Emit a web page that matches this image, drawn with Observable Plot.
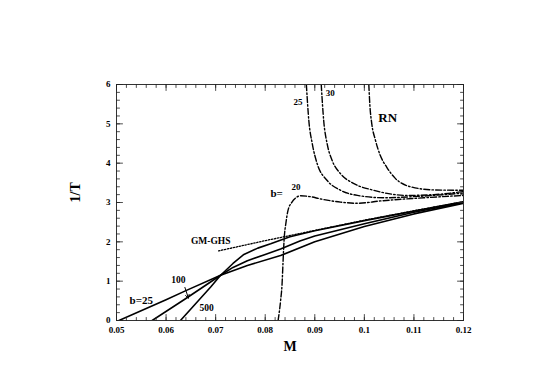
<!DOCTYPE html>
<html><head><meta charset="utf-8">
<script src="https://cdn.jsdelivr.net/npm/d3@7"></script>
<script src="https://cdn.jsdelivr.net/npm/@observablehq/plot@0.6"></script>
<style>body{margin:0;background:#fff}</style>
</head><body><div id="chart"></div>
<script>
// Solid curves (b = 25, 100, 500)
const solidB25M = [0.0505, 0.0600, 0.0640, 0.0710, 0.0764, 0.0831, 0.0900, 0.1000, 0.1100, 0.1200];
const solidB25T = [0, 0.53, 0.76, 1.15, 1.40, 1.65, 2.00, 2.39, 2.71, 2.98];
const solidB100M = [0.0572, 0.0640, 0.0710, 0.0735, 0.0764, 0.0800, 0.0831, 0.0870, 0.0900, 0.1000, 0.1100, 0.1200];
const solidB100T = [0, 0.56, 1.15, 1.35, 1.52, 1.68, 1.82, 2.02, 2.15, 2.46, 2.75, 3.00];
const solidB500M = [0.0629, 0.0665, 0.0690, 0.0710, 0.0735, 0.0757, 0.0785, 0.0811, 0.0850, 0.0900, 0.1000, 0.1100, 0.1200];
const solidB500T = [0, 0.50, 0.85, 1.15, 1.45, 1.68, 1.84, 1.95, 2.13, 2.28, 2.54, 2.78, 3.02];
// Dotted GM-GHS line
const ghsM = [0.0706, 0.0800, 0.0900, 0.1000, 0.1100, 0.1200];
const ghsT = [1.77, 2.03, 2.29, 2.55, 2.79, 3.02];
// Dash-dot curves (b = 20, 25, 30, RN)
const dashB20M = [0.0826, 0.0831, 0.0834, 0.0836, 0.0838, 0.0842, 0.0846, 0.0854, 0.0862, 0.0871, 0.0890, 0.0912, 0.0952, 0.0986, 0.1033, 0.1120, 0.1200];
const dashB20T = [0, 0.50, 0.93, 1.50, 2.03, 2.50, 2.80, 3.01, 3.12, 3.17, 3.15, 3.09, 3.01, 2.98, 3.04, 3.12, 3.18];
const dashB25M = [0.0883, 0.0888, 0.0895, 0.0905, 0.0925, 0.0952, 0.0986, 0.1040, 0.1100, 0.1200];
const dashB25T = [6.0, 5.08, 4.49, 3.98, 3.56, 3.31, 3.18, 3.12, 3.15, 3.24];
const dashB30M = [0.0913, 0.0918, 0.0925, 0.0935, 0.0952, 0.0979, 0.1019, 0.1086, 0.1140, 0.1200];
const dashB30T = [6.0, 5.08, 4.49, 4.07, 3.73, 3.48, 3.31, 3.18, 3.20, 3.28];
const rnM = [0.1009, 0.1011, 0.1015, 0.1022, 0.1032, 0.1045, 0.1062, 0.1093, 0.1140, 0.1200];
const rnT = [6.0, 5.50, 5.00, 4.60, 4.20, 3.90, 3.62, 3.40, 3.32, 3.31];
// Arrow from b=25 to b=100 at label "100"
const arrowM = [0.0638, 0.0645];
const arrowT = [0.84, 0.57];
// Annotations
const labelText = ["GM-GHS", "100", "b=25", "500", "25", "30", "RN", "b=", "20"];
const labelM = [0.0690, 0.0625, 0.0550, 0.0682, 0.0866, 0.0931, 0.1047, 0.0823, 0.0862];
const labelT = [2.01, 1.02, 0.51, 0.33, 5.54, 5.77, 5.16, 3.22, 3.38];
const labelSize = [9.5, 9.5, 11, 9.5, 9, 9, 13, 11, 9];
// Axes
const xTicks = [0.05, 0.06, 0.07, 0.08, 0.09, 0.1, 0.11, 0.12];
const xTickLabels = ["0.05", "0.06", "0.07", "0.08", "0.09", "0.1", "0.11", "0.12"];
const yTicks = [0, 1, 2, 3, 4, 5, 6];
const yTickLabels = ["0", "1", "2", "3", "4", "5", "6"];
const xMinor = d3.range(0, 36).map(i => 0.05 + i * 0.002);
const yMinor = d3.range(0, 31).map(i => i * 0.2);

const toRows = (M, T) => M.map((m, i) => ({M: m, T: T[i]}));
const tickUp = {draw(ctx, l) { ctx.moveTo(0, 0); ctx.lineTo(0, -l); }};

const solidSeries = [[solidB25M, solidB25T], [solidB100M, solidB100T], [solidB500M, solidB500T]];
const dashSeries = [[dashB20M, dashB20T], [dashB25M, dashB25T], [dashB30M, dashB30T], [rnM, rnT]];
const labels = labelText.map((t, i) => ({t, M: labelM[i], T: labelT[i], s: labelSize[i]}));

const tickMarks = (vals, axis, len) => [
  axis === "x"
    ? Plot.vector(vals, {x: d => d, frameAnchor: "bottom", length: len, anchor: "start", rotate: 0, shape: tickUp, stroke: "#222", strokeWidth: 0.8})
    : Plot.vector(vals, {y: d => d, frameAnchor: "left", length: len, anchor: "start", rotate: 90, shape: tickUp, stroke: "#222", strokeWidth: 0.8}),
  axis === "x"
    ? Plot.vector(vals, {x: d => d, frameAnchor: "top", length: len, anchor: "start", rotate: 180, shape: tickUp, stroke: "#222", strokeWidth: 0.8})
    : Plot.vector(vals, {y: d => d, frameAnchor: "right", length: len, anchor: "start", rotate: -90, shape: tickUp, stroke: "#222", strokeWidth: 0.8})
];

const chart = Plot.plot({
  width: 545, height: 380,
  marginLeft: 116, marginRight: 82, marginTop: 84, marginBottom: 60,
  style: {fontFamily: "'Liberation Serif', 'Times New Roman', serif", background: "#fff", color: "#000"},
  x: {domain: [0.05, 0.12]},
  y: {domain: [0, 6]},
  marks: [
    ...solidSeries.map(([M, T]) => Plot.line(toRows(M, T), {x: "M", y: "T", stroke: "#000", strokeWidth: 1.6, clip: true})),
    Plot.line(toRows(ghsM, ghsT), {x: "M", y: "T", stroke: "#000", strokeWidth: 1.3, strokeDasharray: "1.4,1.6", clip: true}),
    ...dashSeries.map(([M, T]) => Plot.line(toRows(M, T), {x: "M", y: "T", curve: "monotone-x", stroke: "#000", strokeWidth: 1.4, strokeDasharray: "6,2.2,1.5,2.2", clip: true})),
    Plot.arrow([0], {x1: () => arrowM[0], y1: () => arrowT[0], x2: () => arrowM[1], y2: () => arrowT[1], stroke: "#000", strokeWidth: 1, headLength: 6}),
    Plot.text(labels, {x: "M", y: "T", text: "t", fontSize: d => d.s, fontWeight: "bold", fill: "#000"}),
    Plot.frame({stroke: "#333", strokeWidth: 1}),
    ...tickMarks(xMinor, "x", 3),
    ...tickMarks(xTicks, "x", 6),
    ...tickMarks(yMinor, "y", 3),
    ...tickMarks(yTicks, "y", 6),
    Plot.axisX({ticks: xTicks, anchor: "bottom", tickSize: 0, tickPadding: 6, tickFormat: d => xTickLabels[xTicks.indexOf(d)], label: null, fontSize: 9, fontWeight: "bold"}),
    Plot.axisY({ticks: yTicks, anchor: "left", tickSize: 0, tickPadding: 6, tickFormat: d => yTickLabels[yTicks.indexOf(d)], label: null, fontSize: 9, fontWeight: "bold"}),
    Plot.text(["M"], {frameAnchor: "bottom", dy: 30, text: d => d, fontSize: 14, fontWeight: "bold"}),
    Plot.text(["1/T"], {frameAnchor: "left", dx: -41, rotate: -90, text: d => d, fontSize: 14, fontWeight: "bold"})
  ]
});
document.getElementById("chart").appendChild(chart);
</script>
</body></html>
